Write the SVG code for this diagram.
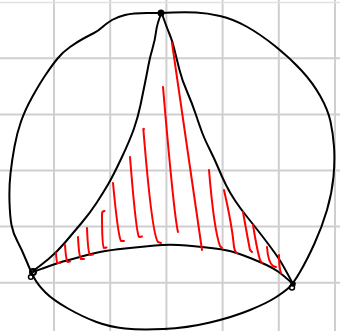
<svg xmlns="http://www.w3.org/2000/svg" width="340" height="331" viewBox="0 0 340 331">
<style>
.grid{stroke:#cfcfcf;stroke-width:2;fill:none}
.ink{stroke:#000;stroke-width:2;fill:none;stroke-linecap:round;stroke-linejoin:round}
.red{stroke:#ff0000;stroke-width:2;fill:none;stroke-linecap:round;stroke-linejoin:round}
</style>
<rect width="340" height="331" fill="#fff"/>
<g id="grid" class="grid">
<line x1="54" y1="0" x2="54" y2="331"/>
<line x1="110.2" y1="0" x2="110.2" y2="331"/>
<line x1="166.4" y1="0" x2="166.4" y2="331"/>
<line x1="222.6" y1="0" x2="222.6" y2="331"/>
<line x1="278.8" y1="0" x2="278.8" y2="331"/>
<line x1="335" y1="0" x2="335" y2="331"/>
<line x1="0" y1="2.5" x2="340" y2="2.5" stroke="#e2e2e2" stroke-width="1.5"/>
<line x1="0" y1="58.3" x2="340" y2="58.3"/>
<line x1="0" y1="114.4" x2="340" y2="114.4"/>
<line x1="0" y1="170.5" x2="340" y2="170.5"/>
<line x1="0" y1="226.6" x2="340" y2="226.6"/>
<line x1="0" y1="282.7" x2="340" y2="282.7"/>
</g>
<g id="circle" class="ink">
<path d="M173,12.5 Q185,12 196,12.5 Q207,13 220,16 Q233,19 246.5,26.5 Q260,34 275,46 Q290,58 301.5,70.5 Q313,83 320.5,96.5 Q328,110 330.5,121.5 Q333,133 334,146.5 Q335,160 333.5,176.5 Q332,193 327,210 Q322,227 314.5,243.5 Q307,260 300,272 Q293,284 288.5,288 Q284,292 275.5,297.5 Q267,303 250,310 Q233,317 210,322.5 Q187,328 163.5,329 Q140,330 125,328.5 Q110,327 96.5,322 Q83,317 68,308.5 Q53,300 45.5,292.5 Q38,285 34.5,278.5 Q31,272 26.5,261 Q22,250 17.5,241.5 Q13,233 11.5,225 Q10,217 9.5,202 Q9,187 10.5,173.5 Q12,160 14.5,146.5 Q17,133 21,121.5 Q25,110 32.5,96.5 Q40,83 46.5,73.5 Q53,64 58,58 Q63,52 70,47 Q77,42 83.5,38.5 Q90,35 94,33 Q98,31 102.5,27 Q107,23 112,20 Q117,17 125,15 Q133,13 147,13 Q161,13 173,12.5 Z"/>
</g>
<g id="triangle" class="ink">
<path d="M161,14 Q157,24 156,32 Q155,40 152.5,48.5 Q150,57 148.5,65 Q147,73 145,83 Q143,93 140.5,105 Q138,117 134,128.5 Q130,140 121.5,158 Q113,176 108,184.5 Q103,193 96.5,203 Q90,213 81.5,223 Q73,233 65,242.5 Q57,252 48.5,259 Q40,266 33,271"/>
<path d="M162,14 Q167,28 169.5,34 Q172,40 174.5,50 Q177,60 179.5,70 Q182,80 187,91.5 Q192,103 196,115 Q200,127 202.5,133.5 Q205,140 210,150 Q215,160 218.5,168.5 Q222,177 226,185 Q230,193 235,200.5 Q240,208 246,215.5 Q252,223 257.5,230 Q263,237 269,245 Q275,253 279,259 Q283,265 293,284"/>
<path d="M33,272 Q57,263 65,261 Q73,259 81.5,256.5 Q90,254 100,252 Q110,250 125,248.5 Q140,247 155,245.5 Q170,244 186.5,245.5 Q203,247 215,248.5 Q227,250 235,252.5 Q243,255 251.5,258.5 Q260,262 266.5,265 Q273,268 278,271.5 Q283,275 293,284"/>
</g>
<g id="hatching" class="red">
<path d="M56,253 Q56.5,262 57.5,263 L60,263"/>
<path d="M65,245 Q66,260 67.5,262 L70,261.5"/>
<path d="M78,237 Q79,257 81,259 L84,259"/>
<path d="M87,228 Q88,253 90,255 L93,254.5"/>
<path d="M104.5,211 Q102,211 102,214 Q102,246 104,248 L106.5,247.5"/>
<path d="M113,183 Q118,236 121,241 L124,241"/>
<path d="M130,157 Q136,232 139,237 L142,236.5"/>
<path d="M144,129 Q143,128 143.5,131 Q152,235 158,242 L161,243"/>
<path d="M163,87 Q174,216 178,232"/>
<path d="M172,43 Q190,170 202,250"/>
<path d="M209,170 Q214,230 220,246 L222,248"/>
<path d="M224,190 Q232,225 234,247 Q235,252 237,253"/>
<path d="M243,212 Q248,240 250,250 L252,252"/>
<path d="M253,225 Q257,250 260,260 L262,263"/>
<path d="M267,247 Q268,262 273,266 L276,267"/>
<path d="M279,255 Q279,268 281,273"/>
</g>
<g id="vertex-top">
<circle cx="161" cy="13" r="3.5" fill="#000"/>
</g>
<g id="vertex-left">
<circle cx="33" cy="272" r="3" fill="none" stroke="#000" stroke-width="2"/>
<circle cx="30.8" cy="277" r="2.3" fill="none" stroke="#000" stroke-width="1.5"/>
</g>
<g id="vertex-right">
<circle cx="293" cy="284" r="2.8" fill="#000"/>
<circle cx="292" cy="287.5" r="2.5" fill="none" stroke="#000" stroke-width="1.5"/>
</g>
</svg>
